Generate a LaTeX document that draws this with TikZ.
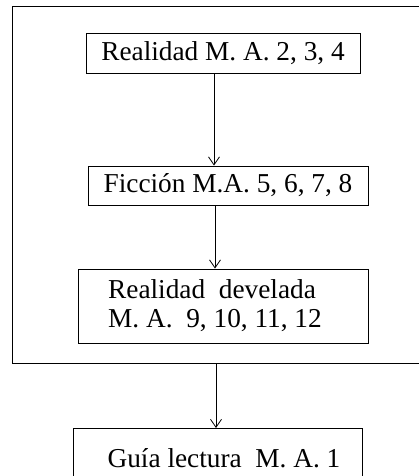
\documentclass[tikz,border=0pt]{standalone}
\usepackage{fontspec}
\setmainfont{Liberation Serif}
\usetikzlibrary{arrows.meta}
\begin{document}
\begin{tikzpicture}[x=1pt,y=-1pt,
  box/.style={draw, line width=0.9pt, inner sep=0pt, font=\fontsize{27.3}{29}\selectfont},
  conn/.style={line width=0.8pt, -{Straight Barb[length=8pt,width=11pt,line width=0.8pt]}},
  frame/.style={line width=1pt}]
\useasboundingbox (0,0) rectangle (419,476);
\begin{scope}
\clip (0,0) rectangle (419,476);
\draw[frame] (12,7) rectangle (425,363);
\node[box, minimum width=274pt, minimum height=40pt] (b1) at (223,53.5) {\raisebox{2pt}{Realidad M. A. 2, 3, 4}};
\node[box, minimum width=280pt, minimum height=39pt] (b2) at (228,185.5) {\raisebox{2pt}{Ficción M.A. 5, 6, 7, 8}};
\node[box, minimum width=290pt, minimum height=74pt, align=left] (b3) at (223,306) {Realidad\ \ develada\\M. A.\ \ 9, 10, 11, 12\hspace*{16pt}};
\node[box, minimum width=289pt, minimum height=60pt, anchor=north] (b4) at (217.5,428) {\hspace*{13pt}Guía lectura\ \ M. A. 1};
\coordinate (ax1) at (214,0);
\coordinate (ax2) at (215,0);
\coordinate (ax3) at (216,0);
\coordinate (fbot) at (216,363);
\draw[conn] (b1.south -| ax1) -- (b2.north -| ax1);
\draw[conn] (b2.south -| ax2) -- (b3.north -| ax2);
\draw[conn] (fbot) -- (b4.north -| ax3);
\end{scope}
\end{tikzpicture}
\end{document}
